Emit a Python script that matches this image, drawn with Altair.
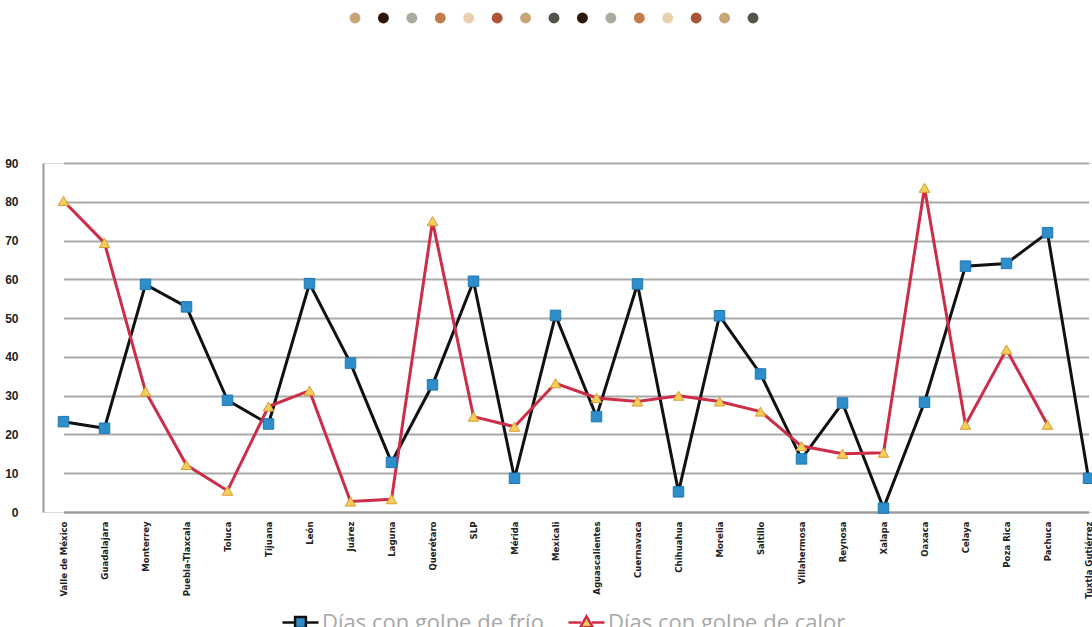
import altair as alt
import pandas as pd

cities = ["Valle de México", "Guadalajara", "Monterrey", "Puebla-Tlaxcala", "Toluca",
          "Tijuana", "León", "Juárez", "Laguna", "Querétaro", "SLP", "Mérida",
          "Mexicali", "Aguascalientes", "Cuernavaca", "Chihuahua", "Morelia",
          "Saltillo", "Villahermosa", "Reynosa", "Xalapa", "Oaxaca", "Celaya",
          "Poza Rica", "Pachuca", "Tuxtla Gutiérrez"]

frio = [23.3, 21.6, 58.7, 52.9, 28.8, 22.7, 58.9, 38.4, 12.8, 32.8, 59.5, 8.7,
        50.7, 24.6, 58.8, 5.2, 50.6, 35.6, 13.7, 28.1, 1.0, 28.3, 63.4, 64.1, 72.0, 8.7]

calor = [80.2, 69.4, 31.1, 12.1, 5.5, 27.2, 31.3, 2.7, 3.3, 75.0, 24.6, 22.0,
         33.2, 29.4, 28.5, 30.0, 28.5, 25.9, 17.0, 15.0, 15.3, 83.6, 22.5, 41.9, 22.5, None]

series = ["Días con golpe de frío", "Días con golpe de calor"]
line_colors = ["#111111", "#CC2E48"]
marker_fill = ["#2E8DCB", "#F2CF5A"]
marker_stroke = ["#2178B0", "#D99A2E"]
marker_shapes = ["square", "triangle-up"]

dot_colors = ["#C8A67A", "#2B1608", "#A8AE9F", "#C27D4A", "#E8CFAE", "#AC543A",
              "#C8A67A", "#53554B", "#2B1608", "#A8AE9F", "#C27D4A", "#E8CFAE",
              "#AC543A", "#C8A67A", "#53554B"]

rows = []
for i, c in enumerate(cities):
    rows.append({"ciudad": c, "serie": series[0], "dias": frio[i]})
    if calor[i] is not None:
        rows.append({"ciudad": c, "serie": series[1], "dias": calor[i]})
df = pd.DataFrame(rows)

dots = pd.DataFrame({"i": list(range(len(dot_colors))), "c": dot_colors})

W, H = 1049, 349

x_enc = alt.X("ciudad:N", sort=cities, title=None,
              scale=alt.Scale(range=[20.5, 1045.5], padding=0),
              axis=alt.Axis(labelAngle=270,
                            labelFont="DejaVu Sans Condensed, Liberation Sans Narrow, Liberation Sans, sans-serif",
                            labelFontWeight="bold", labelFontSize=9.5,
                            labelColor="#222222", ticks=False, labelPadding=9,
                            domainColor="#9a9a9a", domainWidth=2, labelLimit=200,
                            grid=False))
y_enc = alt.Y("dias:Q", title=None,
              scale=alt.Scale(domain=[0, 90], nice=False),
              axis=alt.Axis(values=list(range(0, 100, 10)), ticks=False,
                            labelPadding=25, labelFont="Liberation Sans",
                            labelFontWeight="bold", labelFontSize=12,
                            labelColor="#222222", gridColor="#a9a9a9",
                            gridWidth=2, domainColor="#9a9a9a", domainWidth=2))

lines = alt.Chart(df).mark_line(strokeWidth=3).encode(
    x=x_enc, y=y_enc,
    color=alt.Color("serie:N", scale=alt.Scale(domain=series, range=line_colors), legend=None),
    detail="serie:N",
)

points = alt.Chart(df).mark_point(filled=True, size=110, opacity=1, strokeWidth=1).encode(
    x=x_enc, y=y_enc,
    shape=alt.Shape("serie:N", scale=alt.Scale(domain=series, range=marker_shapes), legend=None),
    fill=alt.Fill("serie:N", scale=alt.Scale(domain=series, range=marker_fill), legend=None),
    stroke=alt.Stroke("serie:N", scale=alt.Scale(domain=series, range=marker_stroke), legend=None),
)

legend_paths = ["M-1,0H-0.3M0.3,0H1M-0.3,-0.3H0.3V0.3H-0.3Z",
                "M-1,0H-0.3M0.3,0H1M0,-0.34L0.34,0.26H-0.34Z"]
legend_x = [238, 524]


def legend_layer(k):
    def lg():
        return alt.Legend(title=None, orient="none", legendX=legend_x[k], legendY=440,
                          direction="horizontal", symbolSize=1300, symbolStrokeWidth=2.5,
                          symbolOpacity=1,
                          labelFont="Open Sans", labelFontSize=22, labelColor="#a8a8a8",
                          labelOffset=2, labelLimit=400)
    return alt.Chart(df).transform_filter(
        alt.datum.dias < -1000
    ).mark_point(filled=True).encode(
        x=x_enc, y=y_enc,
        shape=alt.Shape("serie:N", scale=alt.Scale(domain=[series[k]], range=[legend_paths[k]]),
                        legend=lg()),
        fill=alt.Fill("serie:N", scale=alt.Scale(domain=[series[k]], range=[marker_fill[k]]),
                      legend=lg()),
        stroke=alt.Stroke("serie:N", scale=alt.Scale(domain=[series[k]], range=[line_colors[k]]),
                          legend=lg()),
    )


dot_layer = alt.Chart(dots).mark_circle(size=120, opacity=1).encode(
    x=alt.X("i:O", axis=None, scale=alt.Scale(range=[312, 710], padding=0)),
    y=alt.value(-145),
    color=alt.Color("c:N", scale=None, legend=None),
)

main = alt.layer(lines, points, legend_layer(0), legend_layer(1)).resolve_scale(
    shape="independent", fill="independent", stroke="independent"
)

chart = alt.layer(main, dot_layer).resolve_scale(
    x="independent", color="independent"
).properties(
    width=W, height=H,
    padding={"left": 43, "top": 163, "right": 0, "bottom": 115},
    autosize=alt.AutoSizeParams(type="none"),
).configure_view(stroke=None).configure(background="white")

chart.save("out.html", embed_options={"renderer": "svg", "actions": False})
